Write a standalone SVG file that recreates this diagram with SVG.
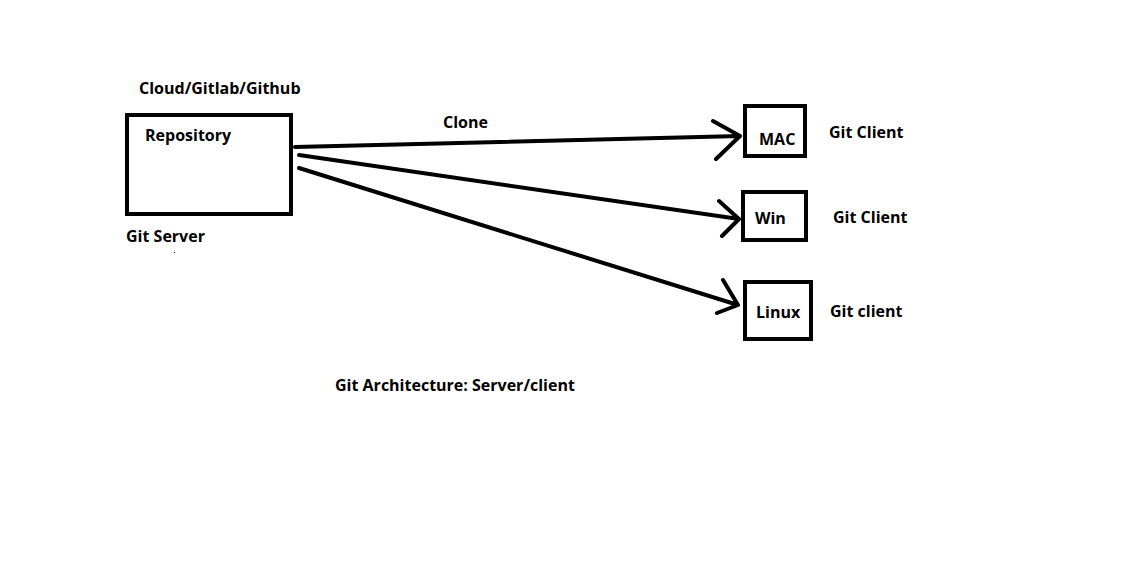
<svg xmlns="http://www.w3.org/2000/svg" width="1131" height="572" viewBox="0 0 1131 572">
<style>
text{font-family:"Open Sans","Noto Sans","Liberation Sans",sans-serif;font-weight:bold;font-size:16px;fill:#000}
.box{fill:none;stroke:#000;stroke-width:4}
.ln{fill:none;stroke:#000;stroke-width:4;stroke-linecap:round;stroke-linejoin:round}
</style>
<rect width="1131" height="572" fill="#fff"/>
<g id="server">
<rect class="box" x="127" y="115" width="164" height="99"/>
<text x="139" y="94">Cloud/Gitlab/Github</text>
<text x="145" y="141">Repository</text>
<text x="126" y="242">Git Server</text>
<rect x="174" y="252" width="1" height="1" fill="#000"/>
</g>
<g id="mac">
<rect class="box" x="745" y="106" width="60" height="50"/>
<text x="759" y="145">MAC</text>
<text x="829" y="138">Git Client</text>
</g>
<g id="win">
<rect class="box" x="743" y="192" width="63" height="48"/>
<text x="755" y="224">Win</text>
<text x="833" y="223">Git Client</text>
</g>
<g id="linux">
<rect class="box" x="745" y="282" width="66" height="57"/>
<text x="756" y="318">Linux</text>
<text x="830" y="317">Git client</text>
</g>
<g id="connectors">
<path class="ln" d="M295 147 L740 136 M713 121 L740 136 L716 159"/>
<path class="ln" d="M299 155 L739 219 M719 201 L739 219 L722 236"/>
<path class="ln" d="M299 168 L738 305 M723 280 L738 305 L717 313"/>
<text x="443" y="128">Clone</text>
</g>
<text x="335" y="391">Git Architecture: Server/client</text>
</svg>
